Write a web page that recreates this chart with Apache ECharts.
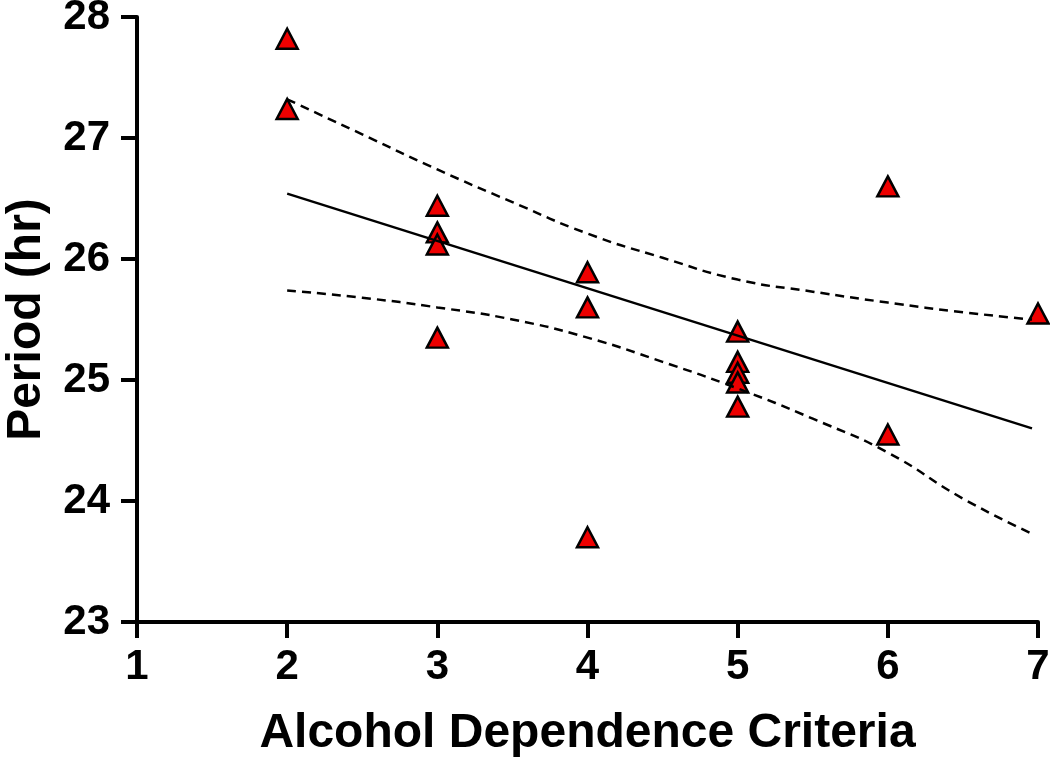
<!DOCTYPE html>
<html>
<head>
<meta charset="utf-8">
<script src="https://cdn.jsdelivr.net/npm/echarts@6/dist/echarts.min.js"></script>
<style>
html,body{margin:0;padding:0;background:#fff;}
#chart{width:1050px;height:760px;}
</style>
</head>
<body>
<div id="chart"></div>
<script>
// Data
var criteriaX = [2, 2, 3, 3, 3, 3, 4, 4, 4, 5, 5, 5, 5, 5, 6, 6, 7];
var periodY = [27.82, 27.24, 26.44, 26.22, 26.12, 25.35, 25.89, 25.60, 23.70, 25.40, 25.15, 25.06, 24.98, 24.78, 26.60, 24.55, 25.55];

var fitX = [2, 6.96];
var fitY = [26.54, 24.60];

var bandX = [2, 2.5, 3, 3.5, 4, 4.5, 5, 5.5, 6, 6.5, 6.96];
var upperY = [27.32, 27.03, 26.74, 26.47, 26.21, 26.01, 25.83, 25.73, 25.64, 25.56, 25.50];
var lowerY = [25.74, 25.68, 25.60, 25.50, 25.35, 25.15, 24.93, 24.68, 24.40, 24.02, 23.73];

var xTicks = [1, 2, 3, 4, 5, 6, 7];
var yTicks = [23, 24, 25, 26, 27, 28];

function zip(a, b) { return a.map(function (v, i) { return [v, b[i]]; }); }

var FONT = '"Liberation Sans", Arial, Helvetica, sans-serif';
var chart = echarts.init(document.getElementById('chart'), null, {renderer: 'canvas'});
chart.setOption({
  animation: false,
  backgroundColor: '#ffffff',
  grid: {left: 137, right: 12, top: 17, bottom: 138, containLabel: false, outerBoundsMode: 'none'},
  xAxis: {
    type: 'value',
    min: xTicks[0], max: xTicks[xTicks.length - 1], interval: 1,
    name: 'Alcohol Dependence Criteria',
    nameLocation: 'middle',
    nameGap: 88,
    nameTextStyle: {fontFamily: FONT, fontWeight: 'bold', fontSize: 48, color: '#000'},
    axisLine: {show: true, onZero: false, lineStyle: {color: '#000', width: 4}},
    axisTick: {show: true, length: 16, lineStyle: {color: '#000', width: 4}},
    axisLabel: {fontFamily: FONT, fontWeight: 'bold', fontSize: 42, color: '#000', margin: 24},
    splitLine: {show: false}
  },
  yAxis: {
    type: 'value',
    min: yTicks[0], max: yTicks[yTicks.length - 1], interval: 1,
    name: 'Period (hr)',
    nameLocation: 'middle',
    nameGap: 86,
    nameRotate: 90,
    nameTextStyle: {fontFamily: FONT, fontWeight: 'bold', fontSize: 48, color: '#000'},
    axisLine: {show: true, onZero: false, lineStyle: {color: '#000', width: 4}},
    axisTick: {show: true, length: 16, lineStyle: {color: '#000', width: 4}},
    axisLabel: {fontFamily: FONT, fontWeight: 'bold', fontSize: 42, color: '#000', margin: 27},
    splitLine: {show: false}
  },
  series: [
    {
      type: 'scatter',
      data: zip(criteriaX, periodY),
      symbol: 'triangle',
      symbolSize: [21, 20],
      itemStyle: {color: '#ee0000', borderColor: '#000', borderWidth: 2.5, opacity: 1}
    },
    {
      type: 'line',
      data: zip(fitX, fitY),
      showSymbol: false,
      symbol: 'none',
      lineStyle: {color: '#000', width: 2.5}
    },
    {
      type: 'line',
      data: zip(bandX, upperY),
      showSymbol: false,
      symbol: 'none',
      smooth: true,
      lineStyle: {color: '#000', width: 2.5, type: [9, 6]}
    },
    {
      type: 'line',
      data: zip(bandX, lowerY),
      showSymbol: false,
      symbol: 'none',
      smooth: true,
      lineStyle: {color: '#000', width: 2.5, type: [9, 6]}
    }
  ]
});
</script>
</body>
</html>
